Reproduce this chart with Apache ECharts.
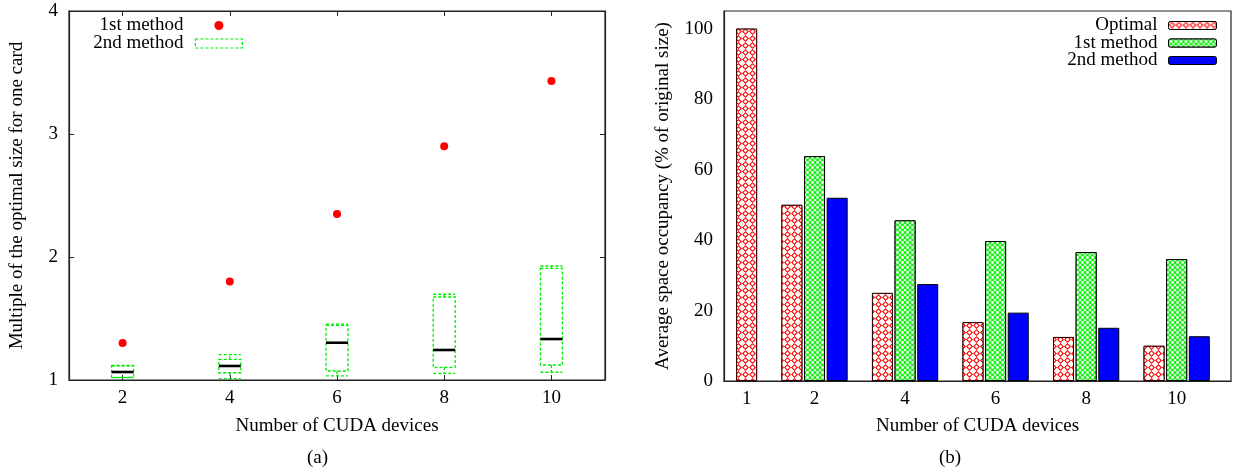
<!DOCTYPE html>
<html>
<head>
<meta charset="utf-8">
<script src="https://cdn.jsdelivr.net/npm/echarts@6/dist/echarts.min.js"></script>
<style>
html,body{margin:0;padding:0;background:#fff;}
#main{width:1243px;height:469px;}
</style>
</head>
<body>
<div id="main"></div>
<script>
// ---- (a) left chart data ----
const boxCategories = [2, 4, 6, 8, 10];
const firstMethodMultiple = [1.30, 1.80, 2.35, 2.90, 3.43];
const secondMin    = [1.020, 1.011, 1.033, 1.054, 1.063];
const secondQ1     = [1.022, 1.059, 1.073, 1.103, 1.122];
const secondMedian = [1.065, 1.114, 1.303, 1.244, 1.333];
const secondQ3     = [1.116, 1.168, 1.445, 1.675, 1.907];
const secondMax    = [1.118, 1.206, 1.455, 1.697, 1.927];
const leftXTicks = [2, 4, 6, 8, 10];
const leftYTicks = [1, 2, 3, 4];

// ---- (b) right chart data ----
const barLabels = ['1', '2', '4', '6', '8', '10'];
const barPositions = [0.25, 1, 2, 3, 4, 5];
const optimal      = [100, 50, 25, 16.7, 12.5, 10];
const firstMethod  = [null, 63.8, 45.6, 39.7, 36.6, 34.6];
const secondMethod = [null, 52.0, 27.5, 19.4, 15.1, 12.7];
const rightYTicks = [0, 20, 40, 60, 80, 100];

const FONT = 'Liberation Serif';
const FS = 19;
const clusterSlot = 0.25;
const boxWidthUnits = 0.41;
const seriesValues = [optimal, firstMethod, secondMethod];
const ZW = '\u200b';

function barData(s) {
  const out = [];
  barPositions.forEach((p, i) => {
    const v = seriesValues[s][i];
    if (v == null) return;
    const present = seriesValues.map(a => a[i] != null);
    const n = present.filter(Boolean).length;
    const k = present.slice(0, s).filter(Boolean).length;
    out.push([p + (k - (n - 1) / 2) * clusterSlot, v]);
  });
  return out;
}

const boxData = boxCategories.map((c, i) => [c, secondMin[i], secondQ1[i], secondMedian[i], secondQ3[i], secondMax[i]]);
const scatterData = boxCategories.map((c, i) => [c, firstMethodMultiple[i]]);

const axisLineStyle = {show: true, onZero: false, lineStyle: {color: '#222', width: 1.2}};
const labelStyle = {color: '#000', fontFamily: FONT, fontSize: FS};
const nameStyle = {color: '#000', fontFamily: FONT, fontSize: FS};

const crossDecal = {symbol: 'path://M50,0L100,50L50,100L0,50Z M50,22L22,50L50,78L78,50Z', symbolSize: 1, symbolKeepAspect: false,
  dashArrayX: [7, 0], dashArrayY: [7, 0], color: '#ff0000', backgroundColor: '#ffffff'};
const ringDecal = {symbol: 'path://M8,50A42,42 0 1,1 92,50A42,42 0 1,1 8,50Z M26,50A24,24 0 1,0 74,50A24,24 0 1,0 26,50Z', symbolSize: 1, symbolKeepAspect: false,
  dashArrayX: [5, 0], dashArrayY: [5, 0], color: '#00ee00', backgroundColor: '#ffffff'};

const chart = echarts.init(document.getElementById('main'), null, {renderer: 'canvas'});

const option = {
  animation: false,
  backgroundColor: '#fff',
  textStyle: {fontFamily: FONT, fontSize: FS, color: '#000'},
  grid: [
    {left: 69, top: 11, width: 536, height: 369, show: true, borderColor: '#222', borderWidth: 1.2, containLabel: false},
    {left: 724, top: 11, width: 507, height: 370, show: true, borderColor: '#222', borderWidth: 1.2, containLabel: false}
  ],
  xAxis: [
    {gridIndex: 0, type: 'value', min: 1, max: 11, position: 'bottom',
     axisLine: axisLineStyle,
     axisTick: {show: true, inside: true, length: 5, customValues: leftXTicks, lineStyle: {color: '#222'}},
     axisLabel: Object.assign({customValues: leftXTicks, margin: 9}, labelStyle),
     splitLine: {show: false},
     name: 'Number of CUDA devices', nameLocation: 'middle', nameGap: 37, nameTextStyle: nameStyle},
    {gridIndex: 0, type: 'value', min: 1, max: 11, position: 'top',
     axisLine: axisLineStyle,
     axisTick: {show: true, inside: true, length: 5, customValues: leftXTicks, lineStyle: {color: '#222'}},
     axisLabel: {show: false}, splitLine: {show: false}},
    {gridIndex: 1, type: 'value', min: 0, max: 5.6, position: 'bottom',
     axisLine: axisLineStyle,
     axisTick: {show: false},
     axisLabel: Object.assign({customValues: barPositions, margin: 9,
       formatter: v => { const i = barPositions.findIndex(p => Math.abs(p - v) < 1e-6); return i >= 0 ? barLabels[i] : ''; }}, labelStyle),
     splitLine: {show: false},
     name: 'Number of CUDA devices', nameLocation: 'middle', nameGap: 36, nameTextStyle: nameStyle}
  ],
  yAxis: [
    {gridIndex: 0, type: 'value', min: 1, max: 4, position: 'left',
     axisLine: axisLineStyle,
     axisTick: {show: true, inside: true, length: 5, customValues: leftYTicks, lineStyle: {color: '#222'}},
     axisLabel: Object.assign({customValues: leftYTicks, margin: 11}, labelStyle),
     splitLine: {show: false},
     name: 'Multiple of the optimal size for one card', nameLocation: 'middle', nameGap: 42, nameTextStyle: nameStyle},
    {gridIndex: 0, type: 'value', min: 1, max: 4, position: 'right',
     axisLine: axisLineStyle,
     axisTick: {show: true, inside: true, length: 5, customValues: leftYTicks, lineStyle: {color: '#222'}},
     axisLabel: {show: false}, splitLine: {show: false}},
    {gridIndex: 1, type: 'value', min: 0, max: 105, position: 'left',
     axisLine: axisLineStyle,
     axisTick: {show: false},
     axisLabel: Object.assign({customValues: rightYTicks, margin: 11}, labelStyle),
     splitLine: {show: false},
     name: 'Average space occupancy (% of original size)', nameLocation: 'middle', nameGap: 51, nameTextStyle: nameStyle}
  ],
  legend: [
    {orient: 'vertical', align: 'right', right: 1000, top: 16, padding: 0, itemWidth: 47, itemHeight: 9, itemGap: -1,
     textStyle: {fontFamily: FONT, fontSize: FS, color: '#000', lineHeight: 16, padding: [0, 7, 0, 0]},
     selectedMode: false,
     data: [
       {name: '1st method', icon: 'circle', itemStyle: {color: '#ff0000', borderWidth: 0}},
       {name: '2nd method', icon: 'rect', itemStyle: {color: 'rgba(0,0,0,0)', borderColor: '#00ee00', borderWidth: 1.2, borderType: [3, 2]}}
     ]},
    {orient: 'vertical', align: 'right', right: 26, top: 16, padding: 0, itemWidth: 48, itemHeight: 8, itemGap: -1.5,
     textStyle: {fontFamily: FONT, fontSize: FS, color: '#000', lineHeight: 17, padding: [0, 6, 0, 0]},
     selectedMode: false,
     formatter: name => name.replace(ZW, ''),
     itemStyle: {borderColor: '#000', borderWidth: 1},
     data: ['Optimal', '1st method' + ZW, '2nd method' + ZW]}
  ],
  series: [
    {name: '1st method', type: 'scatter', xAxisIndex: 0, yAxisIndex: 0,
     symbol: 'circle', symbolSize: 8, itemStyle: {color: '#ff0000', opacity: 1}, data: scatterData, z: 5},
    {name: '2nd method', type: 'custom', xAxisIndex: 0, yAxisIndex: 0,
     encode: {x: 0, y: [1, 2, 3, 4, 5]},
     itemStyle: {color: '#00ee00'},
     data: boxData,
     renderItem: function (params, api) {
       const x = api.value(0);
       const half = api.size([boxWidthUnits, 0])[0] / 2;
       const pMin = api.coord([x, api.value(1)]);
       const pQ1 = api.coord([x, api.value(2)]);
       const pMed = api.coord([x, api.value(3)]);
       const pQ3 = api.coord([x, api.value(4)]);
       const pMax = api.coord([x, api.value(5)]);
       const cx = pMed[0];
       const dashed = {stroke: '#00ee00', lineWidth: 1.3, lineDash: [3, 2], fill: null};
       return {type: 'group', children: [
         {type: 'rect', shape: {x: cx - half, y: pQ3[1], width: 2 * half, height: pQ1[1] - pQ3[1]}, style: Object.assign({}, dashed, {fill: 'none'})},
         {type: 'line', shape: {x1: cx, y1: pQ3[1], x2: cx, y2: pMax[1]}, style: dashed},
         {type: 'line', shape: {x1: cx, y1: pQ1[1], x2: cx, y2: pMin[1]}, style: dashed},
         {type: 'line', shape: {x1: cx - half, y1: pMax[1], x2: cx + half, y2: pMax[1]}, style: dashed},
         {type: 'line', shape: {x1: cx - half, y1: pMin[1], x2: cx + half, y2: pMin[1]}, style: dashed},
         {type: 'line', shape: {x1: cx - half, y1: pMed[1], x2: cx + half, y2: pMed[1]}, style: {stroke: '#000', lineWidth: 2.6}}
       ]};
     }},
    {name: 'Optimal', type: 'bar', xAxisIndex: 2, yAxisIndex: 2, barWidth: 21, barGap: '-100%',
     itemStyle: {color: '#ffffff', borderColor: '#300000', borderWidth: 1, decal: crossDecal},
     data: barData(0)},
    {name: '1st method' + ZW, type: 'bar', xAxisIndex: 2, yAxisIndex: 2, barWidth: 21, barGap: '-100%',
     itemStyle: {color: '#ffffff', borderColor: '#000', borderWidth: 1, decal: ringDecal},
     data: barData(1)},
    {name: '2nd method' + ZW, type: 'bar', xAxisIndex: 2, yAxisIndex: 2, barWidth: 21, barGap: '-100%',
     itemStyle: {color: '#0000ff', borderColor: '#000', borderWidth: 1},
     data: barData(2)}
  ],
  graphic: [
    {type: 'text', left: 307, top: 449, style: {text: '(a)', fontFamily: FONT, fontSize: FS, fill: '#000'}},
    {type: 'text', left: 939, top: 449, style: {text: '(b)', fontFamily: FONT, fontSize: FS, fill: '#000'}}
  ]
};
chart.setOption(option);
</script>
</body>
</html>
